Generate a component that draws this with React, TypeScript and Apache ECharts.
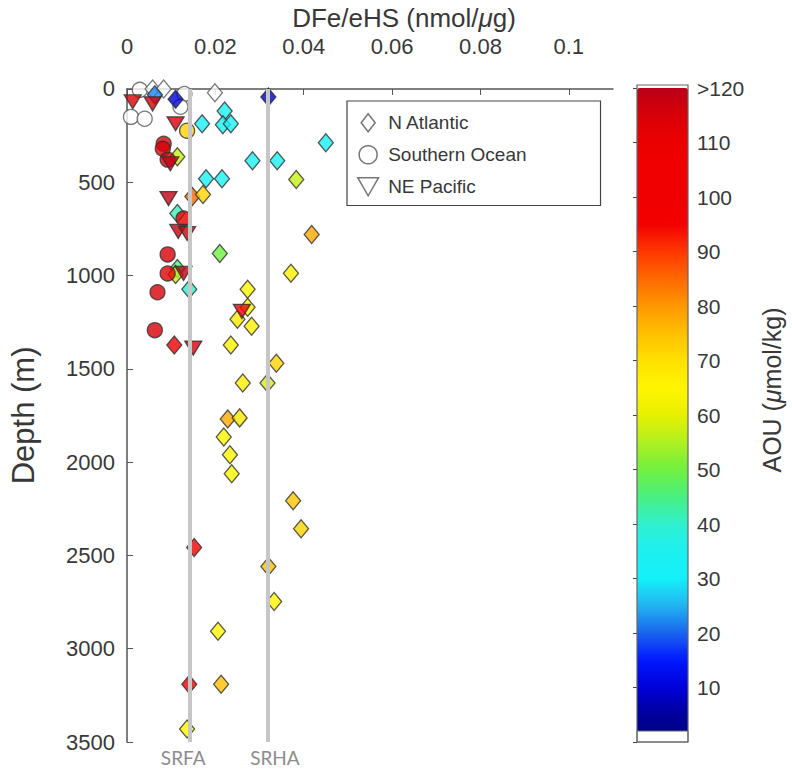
import React, { useEffect, useRef } from "react";
import * as echarts from "echarts";

// ---- Data (DFe/eHS in nmol/µg, depth in m, AOU in µmol/kg) ----
const NA_X = [0.0063, 0.011, 0.032, 0.0221, 0.017, 0.0217, 0.0235, 0.045, 0.0284, 0.034, 0.0179, 0.0215, 0.0383, 0.0114, 0.0148, 0.0172, 0.0114, 0.0418, 0.021, 0.0114, 0.011, 0.0371, 0.0141, 0.0273, 0.0273, 0.025, 0.0282, 0.0107, 0.0235, 0.0338, 0.0262, 0.0318, 0.0228, 0.0255, 0.0219, 0.0233, 0.0237, 0.0376, 0.0394, 0.0152, 0.032, 0.0333, 0.0206, 0.0141, 0.0213, 0.0136];
const NA_DEPTH = [32, 55, 43, 118, 187, 192, 187, 288, 385, 385, 481, 481, 486, 363, 577, 566, 668, 780, 882, 962, 994, 988, 1074, 1074, 1170, 1234, 1272, 1373, 1373, 1470, 1576, 1576, 1769, 1763, 1865, 1961, 2063, 2207, 2357, 2458, 2560, 2747, 2907, 3190, 3190, 3430];
const NA_AOU = [22, 10, 8, 33, 33, 33, 33, 33, 33, 33, 33, 35, 57, 57, 85, 72, 42, 78, 50, 45, 57, 66, 40, 65, 65, 68, 66, 100, 66, 72, 66, 58, 78, 68, 65, 65, 64, 74, 72, 100, 75, 65, 65, 100, 75, 65];
const NA_HOLLOW_X = [0.0058, 0.0083, 0.0199];
const NA_HOLLOW_DEPTH = [0, 0, 21];

const SO_X = [0.0136, 0.0083, 0.0081, 0.0092, 0.0128, 0.0092, 0.0092, 0.0069, 0.0063];
const SO_DEPTH = [224, 294, 321, 379, 695, 887, 989, 1090, 1293];
const SO_AOU = [72, 115, 115, 115, 112, 115, 112, 115, 115];
const SO_HOLLOW_X = [0.0009, 0.004, 0.013, 0.0121, 0.0029];
const SO_HOLLOW_DEPTH = [150, 160, 27, 96, 5];

const NP_X = [0.0013, 0.0058, 0.011, 0.0098, 0.0094, 0.0116, 0.0136, 0.0128, 0.026, 0.015];
const NP_DEPTH = [69, 80, 187, 401, 588, 764, 775, 989, 1192, 1389];
const NP_AOU = [115, 115, 115, 118, 118, 118, 118, 118, 110, 115];

const REF_NAMES = ["SRFA", "SRHA"];
const REF_X = [0.0143, 0.0319];

const JET = [
  "#000080", "#00009c", "#0000d8", "#0018ff", "#1a64f0", "#22b4f0", "#14f0f8",
  "#1cf0f0", "#30f0d0", "#48f080", "#70f040", "#b0f020", "#e8f000", "#fff500",
  "#ffe000", "#ffc000", "#ff9800", "#ff6800", "#ff3800", "#f40000", "#f00000",
  "#f00000", "#ec0000", "#d80008", "#b80018",
];

const FONT = "Liberation Sans, Arial, Helvetica, sans-serif";
const TXT = "#383838";

const TRI_DOWN = "path://M0,0 L10,0 L5,8.66 Z";
const DIAMOND_ICON = "path://M7,0 L14,9 L7,18 L0,9 Z";

function zip3(a: number[], b: number[], c: number[]) {
  return a.map((v, i) => [v, b[i], c[i]]);
}
function zip2(a: number[], b: number[]) {
  return a.map((v, i) => [v, b[i]]);
}

export default function App() {
  const ref = useRef<HTMLDivElement>(null);
  useEffect(() => {
    if (!ref.current) return;
    const chart = echarts.init(ref.current, undefined, { renderer: "svg" });
    const colored = { borderColor: "#2e2e2e", borderWidth: 1.3 };
    const hollow = { color: "#ffffff", borderColor: "#555", borderWidth: 1.3 };
    const refLabelShift = [-7, 7];
    chart.setOption({
      animation: false,
      backgroundColor: "#ffffff",
      textStyle: { fontFamily: FONT },
      grid: [
        { left: 121, top: 87, width: 492, height: 655 },
        { left: 637, top: 88, width: 51, height: 654 },
      ],
      xAxis: [
        {
          type: "value",
          gridIndex: 0,
          position: "top",
          min: 0,
          max: 0.11,
          interval: 0.02,
          name: "DFe/eHS (nmol/{i|μ}g)",
          nameLocation: "middle",
          nameGap: 56,
          nameTextStyle: {
            fontSize: 26,
            color: TXT,
            fontFamily: FONT,
            padding: [0, 0, 0, 68],
            rich: { i: { fontSize: 26, fontStyle: "italic", color: TXT, fontFamily: FONT } },
          },
          axisLine: { show: true, lineStyle: { color: "#555", width: 1.5 } },
          axisTick: { show: true, inside: true, length: 6, lineStyle: { color: "#555" } },
          axisLabel: { fontSize: 22, color: TXT, margin: 31, showMaxLabel: false, fontFamily: FONT },
          splitLine: { show: false },
        },
        { type: "value", gridIndex: 1, show: false, min: 0, max: 1 },
      ],
      yAxis: [
        {
          type: "value",
          gridIndex: 0,
          inverse: true,
          min: 0,
          max: 3500,
          interval: 500,
          name: "Depth (m)",
          nameLocation: "middle",
          nameGap: 88,
          nameTextStyle: { fontSize: 31, color: TXT, fontFamily: FONT },
          axisLine: { show: true, lineStyle: { color: "#555", width: 1.5 } },
          axisTick: { show: true, inside: true, length: 6, lineStyle: { color: "#555" } },
          axisLabel: { fontSize: 22, color: TXT, margin: 12, fontFamily: FONT, formatter: (v: number) => String(v) },
          splitLine: { show: false },
        },
        {
          type: "value",
          gridIndex: 1,
          position: "right",
          min: 0,
          max: 120,
          interval: 10,
          axisLine: { show: false },
          axisTick: { show: true, inside: true, length: 4, lineStyle: { color: "#444" } },
          axisLabel: {
            fontSize: 21,
            color: TXT,
            margin: 9,
            fontFamily: FONT,
            formatter: (v: number) => (v === 120 ? ">120" : v === 0 ? "" : String(v)),
          },
          splitLine: { show: false },
        },
      ],
      visualMap: {
        type: "continuous",
        min: 0,
        max: 120,
        dimension: 2,
        seriesIndex: [3, 4, 5],
        left: 637,
        top: 88,
        itemWidth: 51,
        itemHeight: 654,
        padding: 0,
        text: null,
        calculable: false,
        hoverLink: false,
        showLabel: false,
        inRange: { color: JET },
      },
      legend: {
        orient: "vertical",
        left: 347,
        top: 101,
        padding: [12, 74, 9, 10],
        itemWidth: 30,
        itemHeight: 18,
        itemGap: 12.5,
        borderColor: "#444",
        borderWidth: 1.2,
        selectedMode: false,
        textStyle: { fontSize: 19, color: TXT, fontFamily: FONT },
        data: [
          { name: "N Atlantic", icon: DIAMOND_ICON, itemStyle: { color: "#fff", borderColor: "#555", borderWidth: 1.5 } },
          { name: "Southern Ocean", icon: "circle", itemStyle: { color: "#fff", borderColor: "#555", borderWidth: 1.5 } },
          { name: "NE Pacific", icon: TRI_DOWN, itemStyle: { color: "#fff", borderColor: "#555", borderWidth: 1.5 } },
        ],
      },
      graphic: [
        { type: "rect", shape: { x: 637, y: 731, width: 51, height: 11 }, style: { fill: "#fff", stroke: "#666", lineWidth: 1 }, z: 100 },
        { type: "rect", shape: { x: 637, y: 85, width: 51, height: 657 }, style: { fill: "none", stroke: "#666", lineWidth: 1.2 }, z: 100 },
        {
          type: "text",
          x: 772,
          y: 390,
          rotation: Math.PI / 2,
          z: 100,
          style: {
            text: "AOU ({i|μ}mol/kg)",
            fontSize: 25,
            fontFamily: FONT,
            fill: TXT,
            align: "center",
            verticalAlign: "middle",
            rich: { i: { fontSize: 25, fontStyle: "italic", fill: TXT, fontFamily: FONT } },
          },
        },
      ],
      series: [
        {
          type: "line",
          name: "refs",
          xAxisIndex: 0,
          yAxisIndex: 0,
          data: [],
          z: 1,
          markLine: {
            silent: true,
            symbol: "none",
            precision: 5,
            lineStyle: { color: "#c6c6c6", width: 4, type: "solid" },
            label: {
              show: true,
              position: "end",
              distance: 6,
              formatter: "{b}",
              color: "#8c8c8c",
              fontSize: 19,
              fontFamily: "Lato, 'Open Sans', sans-serif",
            },
            data: REF_X.map((x, i) => ({
              name: REF_NAMES[i],
              xAxis: x,
              label: { offset: [refLabelShift[i], 0] },
            })),
          },
        },
        {
          type: "scatter",
          name: "Southern Ocean",
          data: zip2(SO_HOLLOW_X, SO_HOLLOW_DEPTH),
          symbol: "circle",
          symbolSize: 15,
          itemStyle: hollow,
          z: 3,
        },
        {
          type: "scatter",
          name: "N Atlantic",
          data: zip2(NA_HOLLOW_X, NA_HOLLOW_DEPTH),
          symbol: "diamond",
          symbolSize: [15, 18],
          itemStyle: hollow,
          z: 3,
        },
        {
          type: "scatter",
          name: "N Atlantic",
          data: zip3(NA_X, NA_DEPTH, NA_AOU),
          symbol: "diamond",
          symbolSize: [15, 18],
          itemStyle: colored,
          z: 3,
        },
        {
          type: "scatter",
          name: "Southern Ocean",
          data: zip3(SO_X, SO_DEPTH, SO_AOU),
          symbol: "circle",
          symbolSize: 15,
          itemStyle: colored,
          z: 3,
        },
        {
          type: "scatter",
          name: "NE Pacific",
          data: zip3(NP_X, NP_DEPTH, NP_AOU),
          symbol: TRI_DOWN,
          symbolSize: [17, 14],
          itemStyle: colored,
          z: 3,
        },
      ],
    });
    return () => chart.dispose();
  }, []);
  return (
    <div
      ref={ref}
      style={{ position: "fixed", left: 0, top: 0, width: 792, height: 773, background: "#fff" }}
    />
  );
}
